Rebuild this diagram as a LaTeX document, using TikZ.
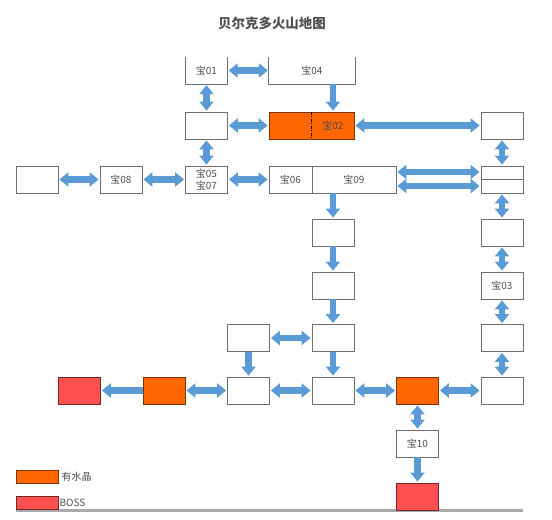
\documentclass[tikz,border=0pt]{standalone}
\usepackage{fontspec}
\newfontfamily\cjk{Noto Sans CJK SC}
\usetikzlibrary{arrows.meta}
\definecolor{arrowblue}{RGB}{91,155,213}
\definecolor{boxgray}{RGB}{110,110,110}
\definecolor{txtgray}{RGB}{80,80,80}
\definecolor{orangefill}{RGB}{255,102,0}
\definecolor{orangeline}{RGB}{120,55,10}
\definecolor{redfill}{RGB}{255,80,80}
\definecolor{redline}{RGB}{110,40,40}
\definecolor{floorgray}{RGB}{170,170,170}
\tikzset{
  cell/.style={draw=boxgray, line width=0.8bp, minimum width=42bp, minimum height=27bp, inner sep=0pt, font=\cjk\fontsize{10}{12}\selectfont, text=txtgray, align=center},
  opencell/.style={minimum width=42bp, minimum height=27bp, inner sep=0pt, font=\cjk\fontsize{10}{12}\selectfont, text=txtgray},
  crystal/.style={cell, fill=orangefill, draw=orangeline},
  boss/.style={cell, fill=redfill, draw=redline},
  txt/.style={font=\cjk\fontsize{10}{12}\selectfont, text=txtgray, inner sep=0pt},
  dbl/.style={draw=arrowblue, line width=6.5bp, {Triangle[width=14bp,length=9bp]}-{Triangle[width=14bp,length=9bp]}, shorten <=1bp, shorten >=1bp},
  sgl/.style={draw=arrowblue, line width=6.5bp, -{Triangle[width=14bp,length=9bp]}, shorten <=0bp, shorten >=1bp},
}
\begin{document}
\begin{tikzpicture}[x=1bp,y=-1bp]
\useasboundingbox (0,0) rectangle (552,520);
% title
\node[font=\cjk\bfseries\fontsize{13.5}{15}\selectfont, text=txtgray] (title) at (272,23) {贝尔克多火山地图};
% floor line
\coordinate (fl) at (16,510);
\coordinate (fr) at (523,510);
\draw[floorgray, line width=3bp] (fl) -- (fr);
% top row (open top)
\node[opencell] (b01) at (206.5,70.5) {宝01};
\node[opencell, minimum width=86bp] (b04) at (312,70.5) {宝04};
\draw[boxgray, line width=0.8bp] (b01.north west) -- (b01.south west) -- (b01.south east) -- (b01.north east);
\draw[boxgray, line width=0.8bp] (b04.north west) -- (b04.south west) -- (b04.south east) -- (b04.north east);
% row 1
\node[cell] (e1) at (206.5,125.5) {};
\node[crystal, minimum width=85bp] (b02) at (311.5,125.5) {};
\draw[black, line width=1bp, dash pattern=on 3bp off 1.5bp on 1bp off 1.5bp] (b02.north) -- (b02.south);
\node[txt] (t02) at (333,125.5) {宝02};
\node[cell] (tr) at (502,125.5) {};
% row 2
\node[cell] (lft) at (37,179.5) {};
\node[cell] (b08) at (121,179.5) {宝08};
\node[cell] (b0507) at (206.5,179.5) {宝05\\宝07};
\node[cell, minimum width=43bp] (b06) at (290.5,179.5) {宝06};
\node[cell, minimum width=84bp] (b09) at (354,179.5) {宝09};
\node[cell] (split) at (502,179.5) {};
\draw[boxgray, line width=0.8bp] (split.west) -- (split.east);
% row 3-4
\node[cell] (m3) at (333,232.5) {};
\node[cell] (r3) at (502,232.5) {};
\node[cell] (m4) at (333,285.5) {};
\node[cell] (b03) at (502,285.5) {宝03};
% row 5
\node[cell] (ll5) at (248.5,338) {};
\node[cell] (m5) at (333,338) {};
\node[cell] (r5) at (502,338) {};
% row 6
\node[boss] (redL) at (79.5,390.5) {};
\node[crystal] (orL) at (164,390.5) {};
\node[cell] (ll6) at (248.5,390.5) {};
\node[cell] (m6) at (333,390.5) {};
\node[crystal] (orB) at (417.5,390.5) {};
\node[cell] (r6) at (502,390.5) {};
% row 7-8
\node[cell] (b10) at (417.5,443.5) {宝10};
\node[boss] (redB) at (417.5,496.5) {};
% legend
\node[crystal, minimum height=13bp] (legO) at (37,476.5) {};
\node[txt, anchor=west] (legOt) at ([xshift=3bp]legO.east) {有水晶};
\node[boss, minimum height=13bp] (legR) at (37,502.5) {};
\node[txt, anchor=west] (legRt) at ([xshift=1bp]legR.east) {BOSS};
% arrows
\draw[dbl] (b01.east) -- (b04.west);
\draw[sgl] (b04.south -| t02) -- (b02.north -| t02);
\draw[dbl] (b01.south) -- (e1.north);
\draw[dbl] (e1.east) -- (b02.west);
\draw[dbl] (e1.south) -- (b0507.north);
\draw[dbl] (b02.east) -- (tr.west);
\draw[dbl] (b0507.east) -- (b06.west);
\draw[dbl] (b08.east) -- (b0507.west);
\draw[dbl] (lft.east) -- (b08.west);
\draw[dbl] ([yshift=7.5bp]b09.east) -- ([yshift=7.5bp]split.west);
\draw[dbl] ([yshift=-6.5bp]b09.east) -- ([yshift=-6.5bp]split.west);
\draw[dbl] (tr.south) -- (split.north);
\draw[dbl] (split.south) -- (r3.north);
\draw[dbl] (r3.south) -- (b03.north);
\draw[dbl] (b03.south) -- (r5.north);
\draw[dbl] (r5.south) -- (r6.north);
\draw[sgl] (b09.south -| m3) -- (m3.north);
\draw[sgl] (m3.south) -- (m4.north);
\draw[sgl] (m4.south) -- (m5.north);
\draw[sgl] (m5.south) -- (m6.north);
\draw[dbl] (ll5.east) -- (m5.west);
\draw[sgl] (ll5.south) -- (ll6.north);
\draw[dbl] (ll6.east) -- (m6.west);
\draw[dbl] (m6.east) -- (orB.west);
\draw[dbl] (orB.east) -- (r6.west);
\draw[dbl] (orB.south) -- (b10.north);
\draw[sgl] (b10.south) -- (redB.north);
\draw[dbl] (orL.east) -- (ll6.west);
\draw[sgl] (orL.west) -- (redL.east);
\end{tikzpicture}
\end{document}
